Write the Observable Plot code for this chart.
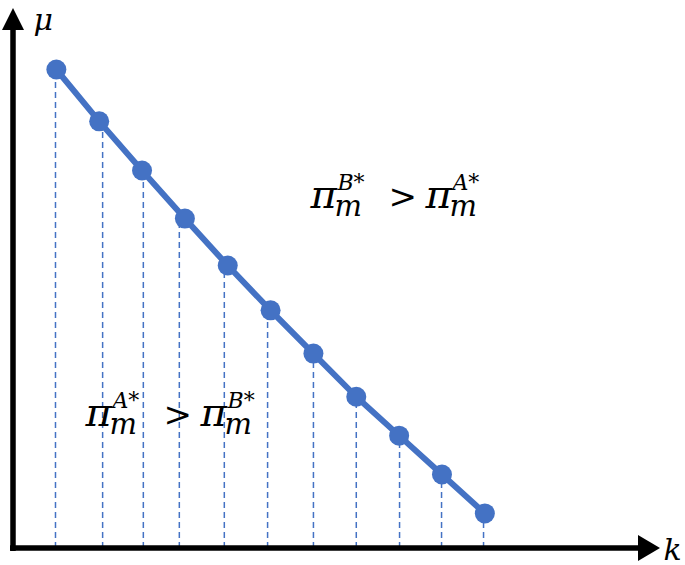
<!DOCTYPE html>
<html><head><meta charset="utf-8">
<script src="https://cdn.jsdelivr.net/npm/d3@7"></script>
<script src="https://cdn.jsdelivr.net/npm/@observablehq/plot@0.6"></script>
<style>body{margin:0;background:#fff}#chart svg{display:block}</style>
</head><body><div id="chart"></div>
<script>
// data
const k = [1, 2, 3, 4, 5, 6, 7, 8, 9, 10, 11];
const mu = [88.7, 79.1, 70.0, 61.1, 52.4, 44.1, 36.1, 28.1, 20.9, 13.7, 6.5];
const dropK = [0.98, 2.08, 3.03, 3.87, 4.92, 5.93, 7.0, 8.0, 9.01, 9.99, 10.97];
const noteK = [6.93, 1.68];
const noteMu = [63.0, 22.6];
const noteLeftSup = ["B*", "A*"];
const noteRightSup = ["A*", "B*"];
const axisLabels = ["μ", "k"];

const blue = "#4472C4";
const pts = k.map((d, i) => ({k: d, mu: mu[i]}));
const drops = dropK.map((d, i) => ({k: d, mu: mu[i]}));
const notes = noteK.map((d, i) => ({k: d, mu: noteMu[i], a: noteLeftSup[i], b: noteRightSup[i]}));

const serif = "DejaVu Serif";
const piece = (text, dx, dy, size) => Plot.text(notes, {
  x: "k", y: "mu", text, dx, dy, fontSize: size, fontFamily: serif, fontStyle: "italic",
  textAnchor: "start", lineAnchor: "bottom", fill: "black"
});

const axes = (index, scales, values, dimensions) => {
  const x0 = scales.x(0), y0 = scales.y(0);
  const xEnd = dimensions.width - dimensions.marginRight;
  const yEnd = dimensions.marginTop;
  const g = d3.create("svg:g");
  g.append("line").attr("x1", x0).attr("x2", x0).attr("y1", y0 + 3).attr("y2", yEnd + 18)
    .attr("stroke", "black").attr("stroke-width", 5.5);
  g.append("line").attr("x1", x0 - 3).attr("x2", xEnd - 18).attr("y1", y0).attr("y2", y0)
    .attr("stroke", "black").attr("stroke-width", 5.5);
  g.append("path").attr("d", `M${x0},${yEnd}L${x0 + 11},${yEnd + 22}L${x0 - 11},${yEnd + 22}Z`).attr("fill", "black");
  g.append("path").attr("d", `M${xEnd},${y0}L${xEnd - 22},${y0 - 13}L${xEnd - 22},${y0 + 13}Z`).attr("fill", "black");
  return g.node();
};

const chart = Plot.plot({
  width: 685,
  height: 565,
  marginLeft: 13,
  marginRight: 25,
  marginTop: 8,
  marginBottom: 17,
  x: {domain: [0, 15.1], axis: null},
  y: {domain: [0, 100], axis: null},
  style: {background: "white"},
  marks: [
    Plot.ruleX(drops, {x: "k", y1: 0, y2: "mu", stroke: blue, strokeWidth: 1.5, strokeDasharray: "6,4"}),
    axes,
    Plot.line(pts, {x: "k", y: "mu", stroke: blue, strokeWidth: 6}),
    Plot.dot(pts, {x: "k", y: "mu", r: 10, fill: blue, stroke: "none"}),
    piece(() => "π", 0, 0, 40),
    piece(() => "m", 24, 8, 29),
    piece(d => d.a, 27, -18, 22),
    piece(() => ">", 78, 0, 34),
    piece(() => "π", 115, 0, 40),
    piece(() => "m", 139, 8, 29),
    piece(d => d.b, 142, -18, 22),
    Plot.text([axisLabels[0]], {frameAnchor: "top-left", text: d => d, dx: 20, dy: 0, textAnchor: "start", lineAnchor: "top", fontSize: 30, fontFamily: serif, fontStyle: "italic"}),
    Plot.text([axisLabels[1]], {frameAnchor: "bottom-right", text: d => d, dx: 3, dy: 11, textAnchor: "start", lineAnchor: "bottom", fontSize: 30, fontFamily: serif, fontStyle: "italic"})
  ]
});
document.getElementById("chart").append(chart);
</script>
</body></html>
